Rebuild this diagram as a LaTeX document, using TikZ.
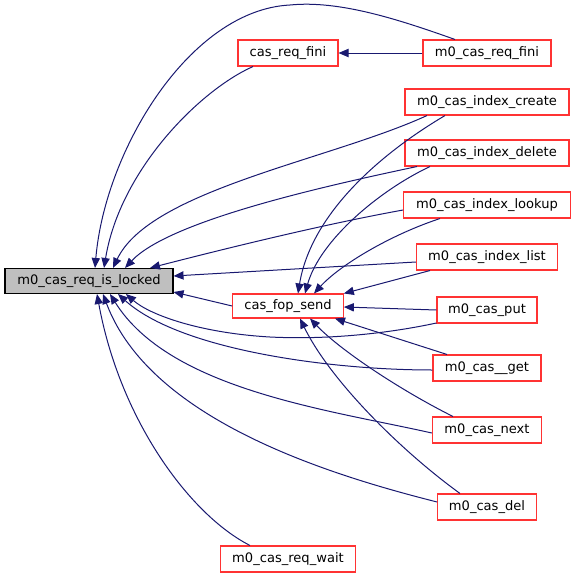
\documentclass[tikz,border=0pt]{standalone}
\usepackage{fontspec}
\setmainfont{DejaVu Sans}
\usepackage{tikz}
\usetikzlibrary{arrows.meta, calc}
\definecolor{colEdge}{HTML}{191970}
\definecolor{colRed}{HTML}{FF3333}
\definecolor{colGray}{HTML}{BFBFBF}
\tikzset{
  fnode/.style={
    draw=colRed, line width=0.8pt, fill=white,
    minimum height=19.5pt, inner sep=0pt,
    font=\fontsize{9.8}{12}\selectfont
  },
  fmain/.style={fnode, draw=black, fill=colGray},
  farr/.style={
    -{Triangle[length=7.5pt,width=6.2pt]},
    line width=0.75pt, draw=colEdge
  }
}

\begin{document}
\begin{tikzpicture}[x=0.75pt, y=-0.75pt]
  \useasboundingbox (0,0) rectangle (576,578);
  % nodes
  \node[fmain, minimum width=126pt, minimum height=18.75pt] (locked) at (89,281) {m0\_cas\_req\_is\_locked};
  \node[fnode, minimum width=75pt]  (reqfini)  at (288,53)  {cas\_req\_fini};
  \node[fnode, minimum width=96pt]  (mreqfini) at (487,53)  {m0\_cas\_req\_fini};
  \node[fnode, minimum width=123pt] (icreate)  at (487,102) {m0\_cas\_index\_create};
  \node[fnode, minimum width=123pt] (idelete)  at (487,153) {m0\_cas\_index\_delete};
  \node[fnode, minimum width=125pt] (ilookup)  at (487,205) {m0\_cas\_index\_lookup};
  \node[fnode, minimum width=106pt] (ilist)    at (487,257) {m0\_cas\_index\_list};
  \node[fnode, minimum width=83pt, minimum height=18pt] (fopsend) at (288,306) {cas\_fop\_send};
  \node[fnode, minimum width=75pt]  (put)      at (487,310) {m0\_cas\_put};
  \node[fnode, minimum width=81pt]  (get)      at (487,368) {m0\_cas\_\_get};
  \node[fnode, minimum width=82pt]  (next)     at (487,430) {m0\_cas\_next};
  \node[fnode, minimum width=74pt]  (del)      at (487,507) {m0\_cas\_del};
  \node[fnode, minimum width=101pt] (reqwait)  at (288,559) {m0\_cas\_req\_wait};
  % callers of m0_cas_req_is_locked
  \draw[farr] ($(mreqfini.north)+(-32,0)$) .. controls (400,20) and (340,0) .. (290,5)
    .. controls (190,10) and (105,150) .. ($(locked.north)+(6,0)$);
  \draw[farr] ($(reqfini.south)+(-35,0)$) .. controls (200,90) and (120,170) .. ($(locked.north)+(15,0)$);
  \draw[farr] ($(icreate.south)+(-60,0)$) .. controls (330,160) and (150,190) .. ($(locked.north)+(24,0)$);
  \draw[farr] ($(idelete.south)+(-70,0)$) .. controls (330,185) and (170,220) .. ($(locked.north)+(36,0)$);
  \draw[farr] ($(ilookup.west)+(0,5)$) .. controls (320,225) and (220,250) .. ($(locked.north)+(61,0)$);
  \draw[farr] ($(ilist.west)+(0,5)$) -- ($(locked.east)+(0,-5)$);
  \draw[farr] (fopsend.west) -- ($(locked.east)+(0,11)$);
  \draw[farr] ($(put.west)+(0,13)$) .. controls (390,333) and (330,340) .. (270,337)
    .. controls (200,333) and (150,315) .. ($(locked.south)+(37,0)$);
  \draw[farr] ($(get.west)+(0,2)$) .. controls (330,370) and (180,350) .. ($(locked.south)+(29,0)$);
  \draw[farr] ($(next.west)+(0,3)$) .. controls (330,410) and (170,390) .. ($(locked.south)+(21,0)$);
  \draw[farr] ($(del.west)+(0,-5)$) .. controls (330,475) and (150,420) .. ($(locked.south)+(14,0)$);
  \draw[farr] ($(reqwait.north)+(-38,0)$) .. controls (190,515) and (120,420) .. ($(locked.south)+(8,0)$);
  % callers of cas_fop_send
  \draw[farr] ($(icreate.south)+(-42,0)$) .. controls (370,160) and (310,220) .. ($(fopsend.north)+(10,0)$);
  \draw[farr] ($(idelete.south)+(-57,0)$) .. controls (380,190) and (320,240) .. ($(fopsend.north)+(17,0)$);
  \draw[farr] ($(ilookup.south)+(-47,0)$) .. controls (390,235) and (340,265) .. ($(fopsend.north)+(26,0)$);
  \draw[farr] ($(ilist.south)+(-57,0)$) -- (fopsend.north east);
  \draw[farr] (put.west) -- ($(fopsend.east)+(0,1)$);
  \draw[farr] ($(get.north)+(-40,0)$) -- ($(fopsend.south)+(47,0)$);
  \draw[farr] ($(next.north)+(-34,0)$) .. controls (400,390) and (340,350) .. ($(fopsend.south)+(22,0)$);
  \draw[farr] ($(del.north)+(-27,0)$) .. controls (400,450) and (330,380) .. ($(fopsend.south)+(12,0)$);
  % cas_req_fini
  \draw[farr] (mreqfini.west) -- (reqfini.east);
\end{tikzpicture}
\end{document}
